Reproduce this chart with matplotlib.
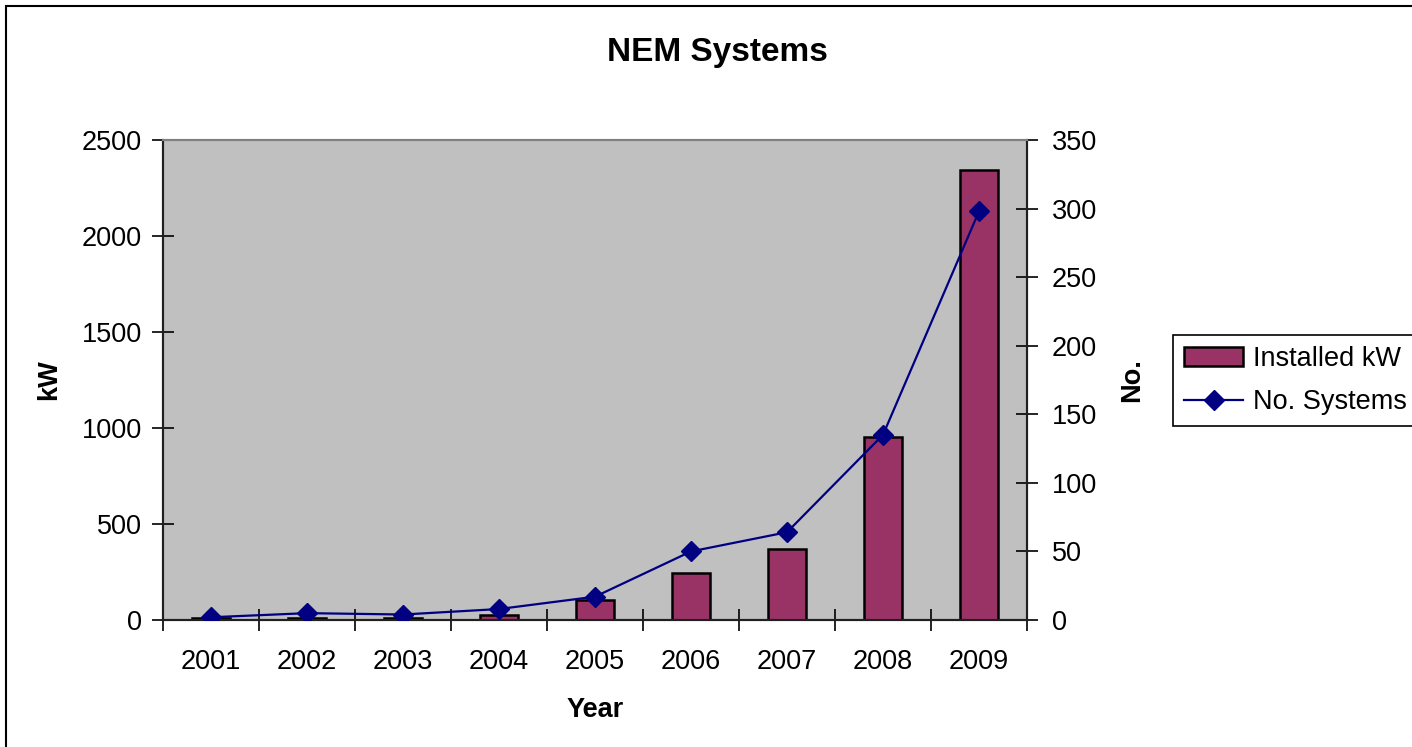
import numpy as np
import matplotlib
matplotlib.use("Agg")
import matplotlib.pyplot as plt
from matplotlib.patches import Rectangle, Patch
from matplotlib.lines import Line2D

# values
years = ["2001", "2002", "2003", "2004", "2005", "2006", "2007", "2008", "2009"]
installed_kw = [8, 10, 10, 28, 102, 245, 370, 955, 2345]
no_systems = [2, 5, 4, 8, 17, 50, 64, 135, 298]

kw_ticks = [0, 500, 1000, 1500, 2000, 2500]
no_ticks = [0, 50, 100, 150, 200, 250, 300, 350]

plt.rcParams['font.family'] = ['Liberation Sans', 'DejaVu Sans']
FS = 19.5

fig = plt.figure(figsize=(14.12, 7.47), dpi=100)
ax = fig.add_axes([163 / 1412, 1 - 620 / 747, 864 / 1412, 480 / 747])
ax2 = ax.twinx()

x = np.arange(len(years))
ax.bar(x, installed_kw, width=0.4, color='#993366', edgecolor='black', linewidth=1.8, zorder=3)
ax2.plot(x, no_systems, color='#000080', linewidth=1.6, marker='D', markersize=10,
         markeredgecolor='#000080', markerfacecolor='#000080', zorder=4)

ax.set_facecolor('#C0C0C0')
ax.set_xlim(-0.5, len(years) - 0.5)
ax.set_ylim(0, 2500)
ax2.set_ylim(0, 350)
ax.set_yticks(kw_ticks)
ax2.set_yticks(no_ticks)

# category labels at centers, tick marks at boundaries
ax.set_xticks(x)
ax.set_xticklabels(years, fontsize=FS)
ax.tick_params(axis='x', which='major', length=0, pad=21)
ax.set_xticks(np.arange(len(years) + 1) - 0.5, minor=True)
ax.tick_params(axis='x', which='minor', direction='inout', length=16, width=1.2)

ax.tick_params(axis='y', direction='inout', length=16, width=1.2, labelsize=FS, pad=7)
ax2.tick_params(axis='y', direction='inout', length=16, width=1.2, labelsize=FS, pad=10)

for a in (ax, ax2):
    a.spines['top'].set_color('#808080')
    a.spines['top'].set_linewidth(1.5)
    for s in ('left', 'right', 'bottom'):
        a.spines[s].set_color('#202020')
        a.spines[s].set_linewidth(1.5)

ax.set_xlabel("Year", fontsize=FS, fontweight='bold', labelpad=16)
ax.set_ylabel("kW", fontsize=FS, fontweight='bold', labelpad=14)
ax2.set_ylabel("No.", fontsize=FS, fontweight='bold', labelpad=16)

fig.text(717 / 1412, 1 - 52 / 747, "NEM Systems", fontsize=24, fontweight='bold',
         ha='center', va='center')

handles = [Patch(facecolor='#993366', edgecolor='black', linewidth=1.8),
           Line2D([], [], color='#000080', linewidth=1.6, marker='D', markersize=10)]
leg = fig.legend(handles, ["Installed kW", "No. Systems"], loc='upper left',
                 bbox_to_anchor=(1173 / 1412, 1 - 335 / 747), borderaxespad=0, fontsize=FS,
                 fancybox=False, framealpha=1, edgecolor='black',
                 handlelength=2.2, handletextpad=0.35, borderpad=0.4, labelspacing=0.65)
leg.get_frame().set_linewidth(1.2)

# outer chart border
fig.patches.append(Rectangle((6 / 1412, -0.1), 1.2, 1 - 6 / 747 + 0.1, transform=fig.transFigure,
                             fill=False, edgecolor='black', linewidth=1.5, clip_on=False))

fig.savefig("out.png", dpi=100)
